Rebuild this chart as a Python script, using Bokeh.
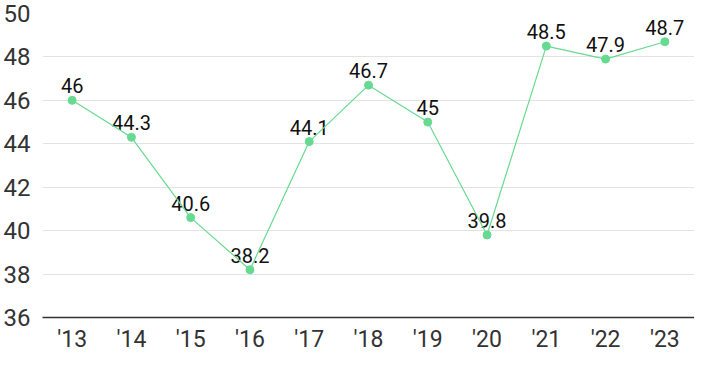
from bokeh.plotting import figure
from bokeh.models import ColumnDataSource, Range1d
from bokeh.core.properties import value
from bokeh.embed import file_html
from bokeh.resources import INLINE

years = ["'13", "'14", "'15", "'16", "'17", "'18", "'19", "'20", "'21", "'22", "'23"]
values = [46, 44.3, 40.6, 38.2, 44.1, 46.7, 45, 39.8, 48.5, 47.9, 48.7]
labels = ["46", "44.3", "40.6", "38.2", "44.1", "46.7", "45", "39.8", "48.5", "47.9", "48.7"]
y_ticks = [36, 38, 40, 42, 44, 46, 48, 50]

src = ColumnDataSource(dict(x=years, y=values, t=labels))

p = figure(x_range=years, y_range=Range1d(36, 50), width=694, height=355,
           output_backend="svg", toolbar_location=None,
           min_border_left=36, min_border_right=0, min_border_top=13, min_border_bottom=20)
p.outline_line_color = None
p.background_fill_color = "white"
p.border_fill_color = "white"

green = "#66da91"
p.text("x", "y", text="t", source=src, text_align="center", text_baseline="bottom",
       y_offset=-7, text_font=value("Roboto"), text_font_size="20px", text_color="#111111")
p.line("x", "y", source=src, line_color=green, line_width=1.2)
p.scatter("x", "y", source=src, size=8, fill_color=green, line_color=green)

p.xgrid.grid_line_color = None
p.ygrid.grid_line_color = "#e3e3e3"
p.ygrid.grid_line_width = 1
p.yaxis.ticker = y_ticks
p.yaxis.axis_line_color = None
p.yaxis.major_tick_line_color = None
p.yaxis.minor_tick_line_color = None
p.yaxis.major_tick_out = 0
p.yaxis.major_tick_in = 0
p.yaxis.minor_tick_out = 0
p.yaxis.major_label_text_font = "Roboto"
p.yaxis.major_label_text_font_size = "24px"
p.yaxis.major_label_text_color = "#333333"
p.yaxis.major_label_standoff = 12

p.xaxis.axis_line_color = "#333333"
p.xaxis.axis_line_width = 1.5
p.xaxis.major_tick_line_color = None
p.xaxis.minor_tick_line_color = None
p.xaxis.major_tick_out = 0
p.xaxis.major_tick_in = 0
p.xaxis.minor_tick_out = 0
p.xaxis.major_label_text_font = "Roboto"
p.xaxis.major_label_text_font_size = "23px"
p.xaxis.major_label_text_color = "#333333"
p.xaxis.major_label_standoff = 8

open("out.html", "w").write(file_html(p, INLINE))
